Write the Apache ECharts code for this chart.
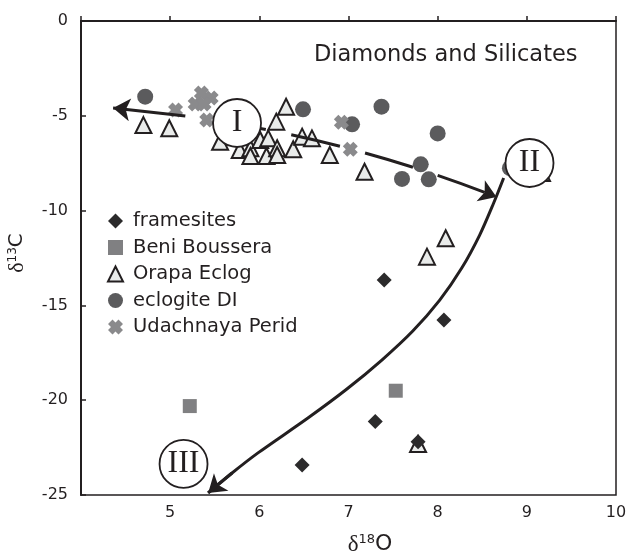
<!DOCTYPE html>
<html><head><meta charset="utf-8">
<script src="https://cdn.jsdelivr.net/npm/echarts@6/dist/echarts.min.js"></script>
<style>html,body{margin:0;padding:0;background:#fff}#c{width:626px;height:556px}</style>
</head><body><div id="c"></div>
<script>
// ---- data ----
const seriesNames = ['framesites', 'Beni Boussera', 'Orapa Eclog', 'eclogite DI', 'Udachnaya Perid'];

const framesitesX = [7.40, 8.07, 7.30, 7.78, 6.48];
const framesitesY = [-13.66, -15.77, -21.13, -22.19, -23.42];

const beniX = [5.22, 7.53];
const beniY = [-20.31, -19.50];

const orapaX = [4.70, 4.99, 5.56, 5.78, 5.90, 5.90, 6.01, 6.10, 6.08, 6.20, 6.20, 6.19, 6.30, 6.38, 6.48, 6.59, 6.79, 7.18, 7.88, 8.09, 9.17, 7.78];
const orapaY = [-5.49, -5.66, -6.37, -6.80, -6.71, -7.12, -6.28, -6.19, -7.12, -6.71, -7.07, -5.31, -4.52, -6.77, -6.10, -6.19, -7.07, -7.95, -12.43, -11.46, -8.02, -22.31];

const eclogiteX = [4.72, 6.49, 7.37, 7.04, 8.00, 7.81, 7.60, 7.90, 8.81];
const eclogiteY = [-3.99, -4.66, -4.52, -5.45, -5.93, -7.56, -8.33, -8.35, -7.76];

const udachX = [5.06, 5.35, 5.46, 5.28, 5.38, 5.41, 6.92, 7.02];
const udachY = [-4.69, -3.80, -4.06, -4.38, -4.38, -5.22, -5.34, -6.77];

const xTickLabels = ['5', '6', '7', '8', '9', '10'];
const yTickLabels = ['0', '-5', '-10', '-15', '-20', '-25'];

const titleText = 'Diamonds and Silicates';

// annotations (data coordinates)
const romanLabels = ['I', 'II', 'III'];
const romanX = [5.75, 9.03, 5.15];
const romanY = [-5.38, -7.49, -23.36];

const arrowIX = [5.17, 4.36];
const arrowIY = [-5.01, -4.59];

const dashX = [5.52, 8.66];
const dashY = [-5.27, -9.28];

const curveX = [8.740, 8.628, 8.471, 8.270, 8.023, 7.721, 7.374, 6.982, 6.545, 5.985, 5.694, 5.426];
const curveY = [-8.28, -9.60, -11.29, -13.03, -14.72, -16.35, -17.88, -19.41, -20.94, -22.78, -23.84, -24.89];

// ---- build ----
const pts = (xs, ys) => xs.map((x, i) => [x, ys[i]]);
const INK = '#231f20';
const FONT = 'DejaVu Sans';
const XMARK = 'path://M3,0 L5,2 L7,0 L10,3 L8,5 L10,7 L7,10 L5,8 L3,10 L0,7 L2,5 L0,3 Z';

const chart = echarts.init(document.getElementById('c'), null, {renderer: 'canvas'});
const curvePts = pts(curveX, curveY);
const n = curvePts.length;

chart.setOption({
  animation: false,
  backgroundColor: '#fff',
  title: {
    text: titleText, left: 309, top: 39,
    textStyle: {fontFamily: FONT, fontSize: 22.5, fontWeight: 'normal', color: INK}
  },
  legend: {
    data: seriesNames, orient: 'vertical', left: 102, top: 206,
    itemWidth: 15, itemHeight: 15, itemGap: 6.5,
    textStyle: {fontFamily: FONT, fontSize: 19.5, color: INK, lineHeight: 20, padding: [0, 0, 0, 5]}
  },
  grid: {left: 81, right: 10, top: 21, bottom: 61, containLabel: false, outerBoundsMode: 'none',
         show: true, borderColor: INK, borderWidth: 1.5, backgroundColor: 'transparent'},
  xAxis: {
    type: 'value', min: 4, max: 10, interval: 1,
    name: '{d|δ}{s|18}{o|O}', nameLocation: 'middle', nameGap: 38,
    nameTextStyle: {padding: [0, 0, 0, 43], rich: {
      d: {fontFamily: 'Liberation Serif', fontSize: 23, color: INK},
      s: {fontFamily: FONT, fontSize: 13, color: INK, padding: [0, 0, 9, 0]},
      o: {fontFamily: FONT, fontSize: 22, color: INK}
    }},
    axisLine: {show: true, lineStyle: {color: INK, width: 2}},
    axisTick: {show: true, inside: true, length: 5, lineStyle: {color: INK, width: 1.5}},
    axisLabel: {
      margin: 10, fontFamily: FONT, fontSize: 16, color: INK,
      formatter: v => xTickLabels.includes(String(v)) ? String(v) : ''
    },
    splitLine: {show: false}
  },
  yAxis: {
    type: 'value', min: -25, max: 0, interval: 5,
    name: '{d|δ}{s|13}{o|C}', nameLocation: 'middle', nameGap: 53,
    nameTextStyle: {padding: [0, 0, 0, 10], rich: {
      d: {fontFamily: 'Liberation Serif', fontSize: 22, color: INK},
      s: {fontFamily: FONT, fontSize: 12, color: INK, padding: [0, 0, 9, 0]},
      o: {fontFamily: FONT, fontSize: 20, color: INK}
    }},
    axisLine: {show: true, lineStyle: {color: INK, width: 2}},
    axisTick: {show: true, inside: true, length: 5, lineStyle: {color: INK, width: 1.5}},
    axisLabel: {
      margin: 13, fontFamily: FONT, fontSize: 16, color: INK,
      formatter: v => yTickLabels.includes(String(v)) ? String(v) : ''
    },
    splitLine: {show: false}
  },
  series: [
    {name: 'Orapa Eclog', type: 'scatter', symbol: 'triangle', symbolSize: 16, z: 2,
     itemStyle: {color: '#e9ebea', borderColor: INK, borderWidth: 2, opacity: 1},
     data: pts(orapaX, orapaY)},
    {name: 'eclogite DI', type: 'scatter', symbol: 'circle', symbolSize: 16, z: 3,
     itemStyle: {color: '#5b5b5d', opacity: 1}, data: pts(eclogiteX, eclogiteY)},
    {name: 'Udachnaya Perid', type: 'scatter', symbol: XMARK, symbolSize: 15, z: 4,
     itemStyle: {color: '#8a8a8c', opacity: 1}, data: pts(udachX, udachY)},
    {name: 'Beni Boussera', type: 'scatter', symbol: 'rect', symbolSize: 14, z: 4,
     itemStyle: {color: '#808082', opacity: 1}, data: pts(beniX, beniY)},
    {name: 'framesites', type: 'scatter', symbol: 'diamond', symbolSize: 15, z: 5,
     itemStyle: {color: '#2b2a2b', opacity: 1}, data: pts(framesitesX, framesitesY)},
    // arrows
    {type: 'lines', coordinateSystem: 'cartesian2d', z: 6, silent: true,
     symbol: ['none', 'arrow'], symbolSize: 17,
     lineStyle: {color: INK, width: 3, opacity: 1},
     data: [{coords: pts(arrowIX, arrowIY)}]},
    {type: 'lines', coordinateSystem: 'cartesian2d', z: 6, silent: true,
     symbol: ['none', 'arrow'], symbolSize: 17,
     lineStyle: {color: INK, width: 3, opacity: 1, type: [50, 26], curveness: 0.055},
     data: [{coords: pts(dashX, dashY)}]},
    {type: 'line', z: 6, silent: true, smooth: 0.3, showSymbol: false, symbol: 'none',
     lineStyle: {color: INK, width: 3}, data: curvePts},
    {type: 'lines', coordinateSystem: 'cartesian2d', z: 6, silent: true,
     symbol: ['none', 'arrow'], symbolSize: 17,
     lineStyle: {color: INK, width: 3, opacity: 1},
     data: [{coords: [curvePts[n - 2], curvePts[n - 1]]}]},
    // roman numeral circles
    {type: 'scatter', z: 8, silent: true, symbol: 'circle', symbolSize: 48,
     itemStyle: {color: '#fff', borderColor: INK, borderWidth: 1.8, opacity: 1},
     label: {show: true, position: 'inside', formatter: p => p.name,
             fontFamily: 'Liberation Serif', fontSize: 32, color: INK},
     data: romanLabels.map((r, i) => ({name: r, value: [romanX[i], romanY[i]]}))}
  ]
});
</script>
</body></html>
